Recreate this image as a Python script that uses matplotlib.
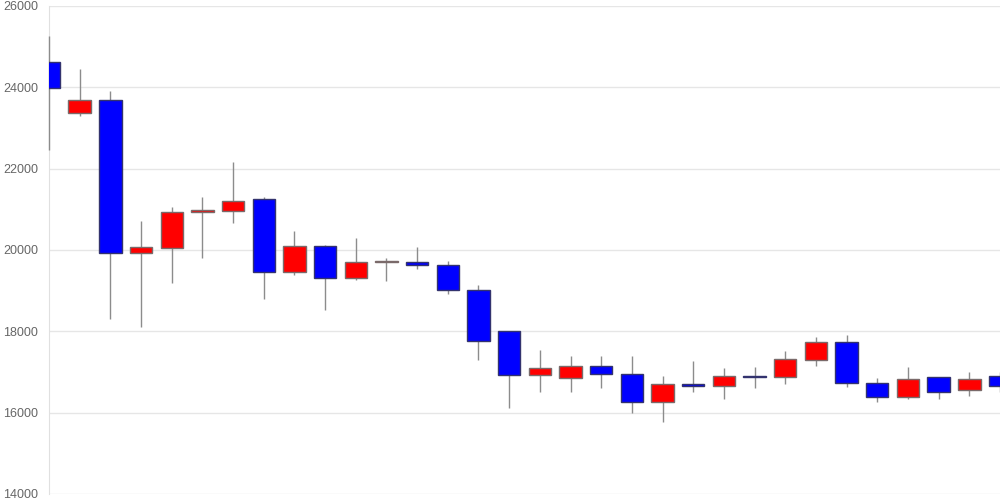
#!/usr/bin/env python3
# -*- coding: utf-8 -*-
"""
日足ローソク足チャート (四本値) の再現
"""

import matplotlib
matplotlib.use('Agg')
import matplotlib.pyplot as plt
from matplotlib.patches import Rectangle

plt.rcParams['font.family'] = ['Liberation Sans', 'DejaVu Sans']

# 四本値 (始値, 高値, 安値, 終値)
opens = [24615, 23370, 23700, 19935, 20055, 20925, 20960, 21255, 19450, 20090,
         19305, 19700, 19715, 19625, 19010, 18000, 16925, 16855, 17140, 16945,
         16255, 16700, 16650, 16905, 16870, 17300, 17730, 16720, 16380, 16870,
         16550, 16910]
highs = [25270, 24440, 23910, 20710, 21065, 21300, 22155, 21295, 20475, 20115,
         20285, 19795, 20080, 19730, 19130, 18010, 17540, 17395, 17395, 17395,
         16900, 17270, 17100, 17130, 17525, 17860, 17910, 16845, 17115, 16875,
         16990, 16990]
lows = [22460, 23300, 18310, 18110, 19180, 19810, 20670, 18790, 19385, 18515,
        19260, 19245, 19540, 18910, 17295, 16120, 16500, 16500, 16615, 15990,
        15760, 16500, 16335, 16600, 16695, 17155, 16640, 16255, 16345, 16330,
        16400, 16500]
closes = [23975, 23690, 19935, 20065, 20935, 20975, 21205, 19450, 20090, 19305,
          19705, 19730, 19625, 19010, 17755, 16935, 17105, 17140, 16945, 16255,
          16705, 16655, 16910, 16870, 17310, 17730, 16720, 16380, 16820, 16500,
          16820, 16665]

y_ticks = [14000, 16000, 18000, 20000, 22000, 24000, 26000]

UP_COLOR = '#ff0000'
DOWN_COLOR = '#0000ff'


def plot_candles():
    fig = plt.figure(figsize=(10, 5), dpi=100)
    ax = fig.add_axes([0.049, 0.012, 0.951, 0.976])

    width = 0.73
    for i, (o, h, l, c) in enumerate(zip(opens, highs, lows, closes)):
        up = c >= o
        # ヒゲ (軸線より手前に描く)
        ax.plot([i, i], [l, h], color='#8c8c8c', linewidth=1, zorder=3,
                solid_capstyle='butt', clip_on=False)
        # 実体
        bottom = min(o, c)
        height = abs(c - o)
        rect = Rectangle((i - width / 2, bottom), width, height,
                         facecolor=UP_COLOR if up else DOWN_COLOR,
                         edgecolor='#7a6a6a' if up else '#33336e',
                         linewidth=1, zorder=4)
        ax.add_patch(rect)

    ax.set_xlim(0, len(opens) - 1)
    ax.set_ylim(14000, 26000)
    ax.set_yticks(y_ticks)
    ax.set_yticklabels([str(v) for v in y_ticks])
    ax.set_xticks([])

    ax.grid(True, axis='y', color='#e6e6e6', linewidth=1, zorder=0)
    ax.set_axisbelow(True)
    for side in ['top', 'right', 'bottom']:
        ax.spines[side].set_visible(False)
    ax.spines['left'].set_color('#e0e0e0')
    ax.spines['left'].set_zorder(1)
    ax.tick_params(axis='y', length=0, pad=8, labelsize=9, labelcolor='#666666')

    fig.savefig('out.png', dpi=100)


if __name__ == "__main__":
    plot_candles()
